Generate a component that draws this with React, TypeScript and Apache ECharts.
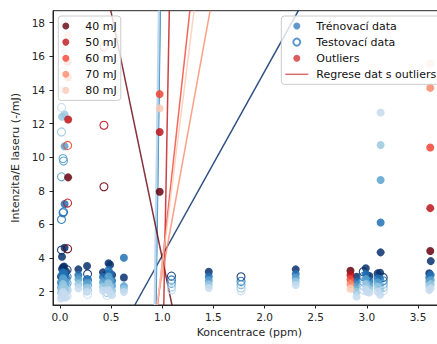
import React, { useEffect, useRef } from 'react';
import * as echarts from 'echarts';

// ---------- data ----------
const energies = ['40 mJ', '50 mJ', '60 mJ', '70 mJ', '80 mJ'];
const blues = ['#08306b', '#2171b5', '#5aa2cf', '#9ac8e0', '#c6dbef'];
const reds = ['#67000d', '#bc141a', '#f14432', '#fc8a6a', '#fdc9b4'];

const xTicks = [0, 0.5, 1, 1.5, 2, 2.5, 3, 3.5];
const yTicks = [2, 4, 6, 8, 10, 12, 14, 16, 18];

// each entry: [concentration, [value at 40, 50, 60, 70, 80 mJ]]
type Col = [number, (number | null)[]];

const trainColumns: Col[] = [
  [0.01, [2.9, 2.55, 2.25, 1.95, 1.6]],
  [0.02, [3.35, 3.0, 2.6, 2.2, 1.8]],
  [0.03, [3.45, 3.15, 2.8, 2.45, 2.0]],
  [0.04, [3.5, 3.1, 2.7, 2.3, 1.9]],
  [0.05, [3.0, 2.7, 2.4, 2.05, 1.65]],
  [0.06, [3.2, 2.85, 2.5, 2.1, 1.72]],
  [0.045, [4.61, 7.22, 10.65, 12.54, 16.26]],
  [0.02, [4.08, null, null, 12.4, 14.02]],
  [0.18, [3.33, 3.0, 2.75, 2.45, 2.2]],
  [0.265, [3.53, 2.75, 2.5, 2.25, 2.0]],
  [0.42, [3.15, 2.87, 2.57, 2.3, 2.05]],
  [0.475, [3.69, 3.3, 2.9, 2.5, 2.1]],
  [0.49, [3.6, 3.1, 2.7, 2.3, 1.9]],
  [0.51, [3.0, 2.65, 2.35, 2.05, 1.8]],
  [0.625, [2.85, 4.02, 2.33, 2.15, 1.98]],
  [1.455, [3.19, 2.9, 2.65, 2.42, 2.22]],
  [2.305, [3.33, 3.05, 2.82, 2.6, 2.4]],
  [2.9, [2.89, 2.6, 2.3, 2.0, 1.72]],
  [2.99, [3.39, 3.05, 2.75, 2.45, 2.15]],
  [3.0, [3.0, 2.75, 2.5, 2.25, 2.0]],
  [3.025, [2.93, 2.65, 2.4, 2.15, 1.95]],
  [3.105, [3.09, 2.8, 2.55, 2.3, 2.0]],
  [3.135, [4.34, 6.12, 8.64, 10.72, 12.66]],
  [3.13, [3.13, 2.75, 2.4, 2.1, 1.82]],
  [3.625, [3.82, 3.0, 2.7, 2.45, 2.2]],
  [3.61, [3.1, 2.85, 2.6, 2.35, 2.1]],
];

const testColumns: Col[] = [
  [0.015, [4.48, 6.3, 8.83, 11.5, 12.96]],
  [0.03, [null, 6.69, 9.92, null, 15.07]],
  [0.035, [null, 6.75, 9.77, null, null]],
  [0.07, [3.3, 2.9, 2.5, 2.1, 1.75]],
  [0.27, [3.05, 2.7, 2.4, 2.1, 1.84]],
  [0.46, [3.0, 2.6, 2.25, 1.95, 1.78]],
  [1.09, [2.93, 2.7, 2.5, 2.28, 2.12]],
  [1.77, [2.89, 2.62, 2.42, 2.22, 2.05]],
  [2.965, [3.19, 2.9, 2.6, 2.35, 2.1]],
  [3.16, [2.85, 2.65, 2.45, 2.25, 2.05]],
];

const outlierColumns: Col[] = [
  [0.08, [8.8, 12.24, null, 14.74, 17.25]],
  [0.075, [null, null, null, 15.66, null]],
  [0.975, [7.94, 11.5, 13.75, null, 12.9]],
  [2.84, [3.25, 3.0, 2.72, 2.45, 2.18]],
  [3.62, [4.42, 6.97, 10.58, 14.12, 15.57]],
];

const outlierTestColumns: Col[] = [
  [0.075, [4.55, 7.27, 10.7, null, null]],
  [0.43, [8.24, 11.9, 16.56, null, null]],
];

// regression lines: [x at bottom of plot, x at top of plot] per energy
const outlierRegression: [number, number][] = [
  [1.095, 0.497],
  [1.015, 1.069],
  [0.955, 1.27],
  [0.945, 1.468],
  [0.95, 1.311],
];
const trainRegression: [number, number][] = [
  [0.732, 2.331],
  [0.936, 0.978],
  [0.932, 0.975],
  [0.928, 0.97],
  [0.925, 0.965],
];

const legendMain = ['Trénovací data', 'Testovací data', 'Outliers', 'Regrese dat s outliers'];

const X_MIN = -0.068;
const X_MAX = 3.77;
const Y_MIN = 1.21;
const Y_MAX = 18.71;

const FONT = 'DejaVu Sans';
const INK = '#262626';
const SYM = 8;

const pts = (cols: Col[], e: number) =>
  cols.filter((c) => c[1][e] != null).map((c) => [c[0], c[1][e] as number]);

function buildOption() {
  const series: any[] = [];

  trainRegression.forEach((p, i) => {
    series.push({
      type: 'line',
      name: 'trainReg' + i,
      data: [
        [p[0], Y_MIN],
        [p[1], Y_MAX],
      ],
      symbol: 'none',
      silent: true,
      z: 1,
      lineStyle: { color: blues[i], width: i === 0 ? 1.5 : 2, opacity: 0.85 },
    });
  });
  outlierRegression.forEach((p, i) => {
    series.push({
      type: 'line',
      name: 'outReg' + i,
      data: [
        [p[0], Y_MIN],
        [p[1], Y_MAX],
      ],
      symbol: 'none',
      silent: true,
      z: 1,
      lineStyle: { color: reds[i], width: 1.5, opacity: 0.8 },
    });
  });

  for (let e = 0; e < 5; e++) {
    series.push({
      type: 'scatter',
      name: 'train' + e,
      data: pts(trainColumns, e),
      symbolSize: SYM,
      z: 2,
      itemStyle: { color: blues[e], opacity: 0.85 },
    });
    series.push({
      type: 'scatter',
      name: 'test' + e,
      data: pts(testColumns, e),
      symbolSize: SYM,
      z: 2,
      itemStyle: { color: 'rgba(255,255,255,0)', borderColor: blues[e], borderWidth: 1.1, opacity: 0.9 },
    });
    series.push({
      type: 'scatter',
      name: 'out' + e,
      data: pts(outlierColumns, e),
      symbolSize: SYM,
      z: 3,
      itemStyle: { color: reds[e], opacity: 0.85 },
    });
    series.push({
      type: 'scatter',
      name: 'outTest' + e,
      data: pts(outlierTestColumns, e),
      symbolSize: SYM,
      z: 3,
      itemStyle: { color: 'rgba(255,255,255,0)', borderColor: reds[e], borderWidth: 1.1, opacity: 0.9 },
    });
  }

  // legend-only series
  energies.forEach((name, i) => {
    series.push({ type: 'scatter', name, data: [], itemStyle: { color: reds[i] } });
  });
  series.push({ type: 'scatter', name: legendMain[0], data: [], itemStyle: { color: '#3b7dbf' } });
  series.push({
    type: 'scatter',
    name: legendMain[1],
    data: [],
    itemStyle: { color: 'rgba(255,255,255,0)', borderColor: '#3b7dbf', borderWidth: 1.2 },
  });
  series.push({ type: 'scatter', name: legendMain[2], data: [], itemStyle: { color: '#d13438' } });
  series.push({ type: 'scatter', name: legendMain[3], data: [], itemStyle: { color: '#d0484b' } });

  const legendCommon = {
    orient: 'vertical',
    itemWidth: 23,
    itemHeight: 7,
    itemGap: 4.1,
    padding: 4,
    borderColor: '#cccccc',
    borderWidth: 1,
    borderRadius: 3,
    backgroundColor: 'rgba(255,255,255,0.8)',
    selectedMode: false,
    z: 10,
    textStyle: { fontSize: 11, lineHeight: 12, color: '#111', fontFamily: FONT, padding: [0, 0, 0, 3] },
  };

  return {
    animation: false,
    textStyle: { fontFamily: FONT },
    grid: {
      left: 53,
      top: 10.7,
      right: 0.4,
      bottom: 39,
      show: true,
      borderColor: INK,
      borderWidth: 1,
      backgroundColor: 'rgba(0,0,0,0)',
    },
    legend: [
      { ...legendCommon, data: energies, left: 58.3, top: 16 },
      {
        ...legendCommon,
        data: [
          legendMain[0],
          legendMain[1],
          legendMain[2],
          { name: legendMain[3], icon: 'path://M0,0L23,0L23,1.5L0,1.5Z' },
        ],
        left: 281.3,
        top: 16,
      },
    ],
    xAxis: {
      type: 'value',
      min: X_MIN,
      max: X_MAX,
      name: 'Koncentrace (ppm)',
      nameLocation: 'middle',
      nameGap: 19,
      nameTextStyle: { fontSize: 11, color: INK, fontFamily: FONT },
      axisLine: { show: true, onZero: false, lineStyle: { color: INK, width: 1 } },
      axisTick: { show: true, length: 3.5, lineStyle: { color: INK }, customValues: xTicks },
      axisLabel: {
        customValues: xTicks,
        formatter: (v: number) => v.toFixed(1),
        fontSize: 10.5,
        color: INK,
        margin: 6,
        fontFamily: FONT,
      },
      splitLine: { show: false },
    },
    yAxis: {
      type: 'value',
      min: Y_MIN,
      max: Y_MAX,
      name: 'Intenzita/E laseru (-/mJ)',
      nameLocation: 'middle',
      nameGap: 21,
      nameTextStyle: { fontSize: 11, color: INK, fontFamily: FONT },
      axisLine: { show: true, onZero: false, lineStyle: { color: INK, width: 1 } },
      axisTick: { show: true, length: 3.5, lineStyle: { color: INK }, customValues: yTicks },
      axisLabel: {
        customValues: yTicks,
        formatter: (v: number) => String(Math.round(v)),
        fontSize: 10.5,
        color: INK,
        margin: 8,
        fontFamily: FONT,
      },
      splitLine: { show: false },
    },
    series,
  };
}

export default function App() {
  const ref = useRef<HTMLDivElement>(null);
  useEffect(() => {
    const chart = echarts.init(ref.current!, undefined, { renderer: 'svg' });
    chart.setOption(buildOption() as any);
    return () => chart.dispose();
  }, []);
  return (
    <div
      style={{
        position: 'fixed',
        left: 0,
        top: 0,
        width: 437,
        height: 344,
        overflow: 'hidden',
        background: '#fff',
      }}
    >
      <div ref={ref} style={{ width: 446, height: 344 }} />
    </div>
  );
}
